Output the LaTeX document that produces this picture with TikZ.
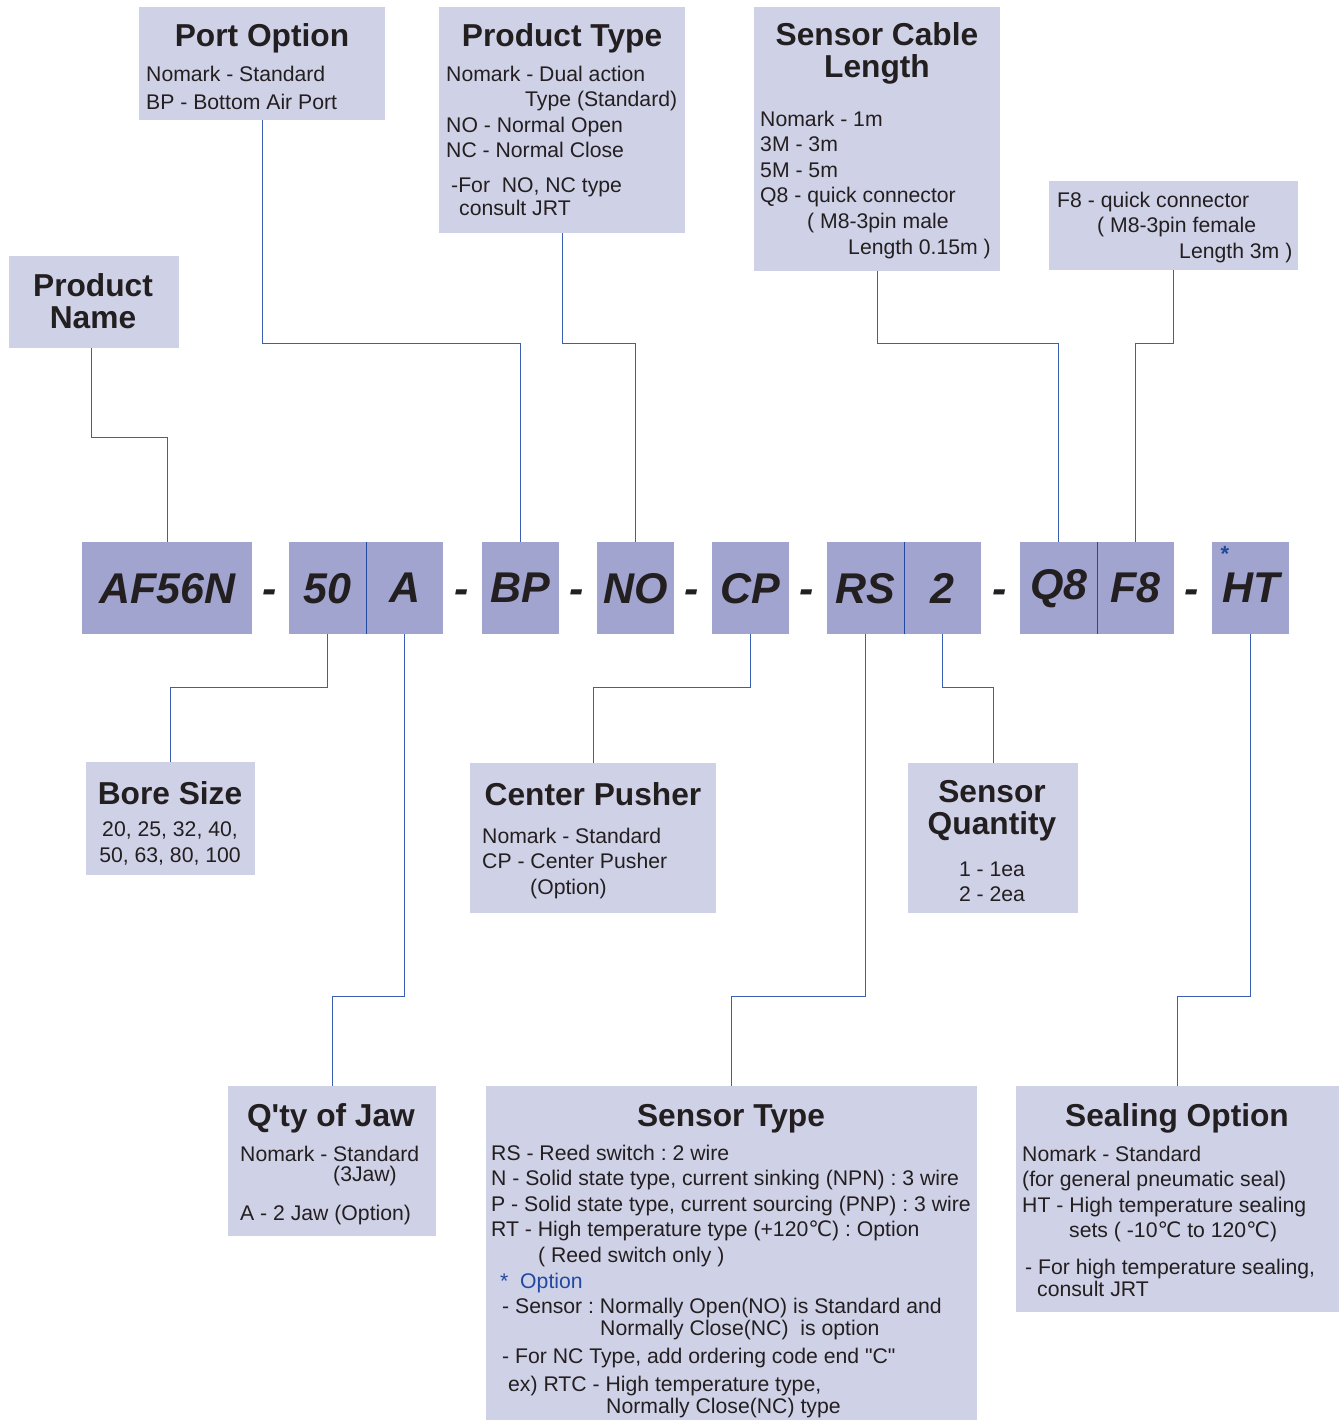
\documentclass[tikz,border=0pt]{standalone}
\usepackage{fontspec}
\setmainfont{Liberation Sans}[Ligatures=TeXOff]
\newfontfamily\symfont{DejaVu Sans}
\newcommand{\degC}{{\symfont ℃}}
\definecolor{codefill}{HTML}{A1A4CF}
\definecolor{boxfill}{HTML}{CFD1E7}
\definecolor{linkblue}{HTML}{3A5EB2}
\definecolor{optblue}{HTML}{2249A0}
\definecolor{ink}{HTML}{231F20}
\frenchspacing

\begin{document}
\begin{tikzpicture}[x=1pt, y=-1pt,
        code/.style={fill=codefill, inner sep=0pt, minimum width=77pt, minimum height=92pt, anchor=north west, text=ink, font=\fontsize{43}{43}\selectfont\bfseries\itshape},
        infobox/.style={fill=boxfill, inner sep=0pt, anchor=north west},
        title/.style={text=ink, inner sep=0pt, anchor=base, align=center, font=\fontsize{31.7}{32}\selectfont\bfseries},
        body/.style={text=ink, inner sep=0pt, anchor=north west, align=left, font=\fontsize{21.2}{25.6}\selectfont},
        hyph/.style={text=ink, inner sep=0pt, anchor=base, font=\fontsize{43}{43}\selectfont\bfseries\itshape},
        link/.style={linkblue, line width=1.2pt},
        divider/.style={optblue, line width=1pt}]
    \useasboundingbox (0,0) rectangle (1342,1420);
    % ordering code
    \node[code, minimum width=170pt] (caf) at (82,542) {AF56N};
    \node[code] (c50) at (289,542) {50};
    \node[code] (ca) at (366,542) {A};
    \node[code] (cbp) at (482,542) {BP};
    \node[code] (cno) at (597,542) {NO};
    \node[code] (ccp) at (712,542) {CP};
    \node[code] (crs) at (827,542) {RS};
    \node[code] (c2) at (904,542) {2};
    \node[code] (cq8) at (1020,542) {Q8};
    \node[code] (cf8) at (1097,542) {F8};
    \node[code] (cht) at (1212,542) {HT};
    \draw[divider] (c50.north east) -- (c50.south east);
    \draw[divider] (crs.north east) -- (crs.south east);
    \draw[divider] (cq8.north east) -- (cq8.south east);
    \node[inner sep=0pt, text=optblue, font=\fontsize{22}{22}\selectfont\bfseries] (star) at (1225,554) {*};
    \node[hyph] (h1) at (270,603) {-};
    \node[hyph] (h2) at (462,603) {-};
    \node[hyph] (h3) at (577,603) {-};
    \node[hyph] (h4) at (692,603) {-};
    \node[hyph] (h5) at (807,603) {-};
    \node[hyph] (h6) at (1000,603) {-};
    \node[hyph] (h7) at (1192,603) {-};
    % upper boxes
    \node[infobox, minimum width=170pt, minimum height=92pt] (pname) at (9,256) {};
    \node[title, anchor=center] (pnameT) at (93,301) {Product\\Name};
    \node[infobox, minimum width=246pt, minimum height=113pt] (port) at (139,7) {};
    \node[title] (portT) at (262,47) {Port Option};
    \node[body] (portB) at (146,65.5) {Nomark - Standard\\[2.4pt] BP - Bottom Air Port};
    \node[infobox, minimum width=246pt, minimum height=226pt] (ptype) at (439,7) {};
    \node[title] (ptypeT) at (562,47) {Product Type};
    \node[body] (ptypeB) at (446,65.5) {Nomark - Dual action\\ \hspace*{79pt}Type (Standard)\\ NO - Normal Open\\ NC - Normal Close\\[9pt] \hspace*{5pt}-For\ \ NO, NC type\\[-3pt] \hspace*{13pt}consult JRT};
    \node[infobox, minimum width=246pt, minimum height=264pt] (cable) at (754,7) {};
    \node[title, anchor=center] (cableT) at (877,53) {Sensor Cable\\Length};
    \node[body] (cableB) at (760,110.5) {Nomark - 1m\\ 3M - 3m\\ 5M - 5m\\ Q8 - quick connector\\ \hspace*{47pt}( M8-3pin male\\ \hspace*{88pt}Length 0.15m )};
    \node[infobox, minimum width=249pt, minimum height=89pt] (f8box) at (1049,181) {};
    \node[body] (f8boxB) at (1057,191.5) {F8 - quick connector\\ \hspace*{40pt}( M8-3pin female\\ \hspace*{122pt}Length 3m )};
    % lower boxes
    \node[infobox, minimum width=169pt, minimum height=113pt] (bore) at (86,762) {};
    \node[title] (boreT) at (170,804) {Bore Size};
    \node[body, anchor=north, align=center] (boreB) at (170,821.5) {20, 25, 32, 40,\\ 50, 63, 80, 100};
    \node[infobox, minimum width=246pt, minimum height=150pt] (pusher) at (470,763) {};
    \node[title] (pusherT) at (593,805) {Center Pusher};
    \node[body] (pusherB) at (482,827.5) {Nomark - Standard\\ CP - Center Pusher\\ \hspace*{48pt}(Option)};
    \node[infobox, minimum width=170pt, minimum height=150pt] (sqty) at (908,763) {};
    \node[title, anchor=center] (sqtyT) at (992,811) {Sensor\\Quantity};
    \node[body, anchor=north, align=center] (sqtyB) at (992,861.5) {1 - 1ea\\ 2 - 2ea};
    \node[infobox, minimum width=208pt, minimum height=150pt] (jaw) at (228,1086) {};
    \node[title] (jawT) at (331,1126) {Q'ty of Jaw};
    \node[body] (jawB) at (240,1145.5) {Nomark - Standard\\[-5.6pt] \hspace*{93pt}(3Jaw)\\[13.4pt] A - 2 Jaw (Option)};
    \node[infobox, minimum width=491pt, minimum height=334pt] (stype) at (486,1086) {};
    \node[title] (stypeT) at (731,1126) {Sensor Type};
    \node[body] (stypeB) at (491,1144.5) {RS - Reed switch : 2 wire\\ N - Solid state type, current sinking (NPN) : 3 wire\\ P - Solid state type, current sourcing (PNP) : 3 wire\\ RT - High temperature type (+120\degC) : Option\\ \hspace*{47pt}( Reed switch only )\\ \hspace*{9pt}\textcolor{optblue}{*\ \ Option}\\ \hspace*{11pt}- Sensor : Normally Open(NO) is Standard and\\[-3.6pt] \hspace*{109pt}Normally Close(NC)\ \ is option\\[2.4pt] \hspace*{11pt}- For NC Type, add ordering code end "C"\\[2.4pt] \hspace*{17pt}ex) RTC - High temperature type,\\[-3.6pt] \hspace*{115pt}Normally Close(NC) type};
    \node[infobox, minimum width=323pt, minimum height=226pt] (seal) at (1016,1086) {};
    \node[title] (sealT) at (1177,1126) {Sealing Option};
    \node[body] (sealB) at (1022,1145.5) {Nomark - Standard\\ (for general pneumatic seal)\\ HT - High temperature sealing\\ \hspace*{47pt}sets ( -10\degC{} to 120\degC)\\[11.4pt] \hspace*{3pt}- For high temperature sealing,\\[-3.6pt] \hspace*{15pt}consult JRT};
    % connectors
    \draw[link] ([xshift=-3pt]pname.south) -- ++(0,89) -| (caf.north);
    \draw[link] (port.south) -- ++(0,223) -| (cbp.north);
    \draw[link] (ptype.south) -- ++(0,110) -| (cno.north);
    \draw[link] (cable.south) -- ++(0,72) -| (cq8.north);
    \draw[link] (f8box.south) -- ++(0,73) -| (cf8.north);
    \draw[link] (c50.south) -- ++(0,53) -| (bore.north);
    \draw[link] (ca.south) -- ++(0,362) -| (jaw.north);
    \draw[link] (ccp.south) -- ++(0,53) -| (pusher.north);
    \draw[link] (crs.south) -- ++(0,362) -| (stype.north);
    \draw[link] (c2.south) -- ++(0,53) -| (sqty.north);
    \draw[link] (cht.south) -- ++(0,362) -| (seal.north);
\end{tikzpicture}
\end{document}
